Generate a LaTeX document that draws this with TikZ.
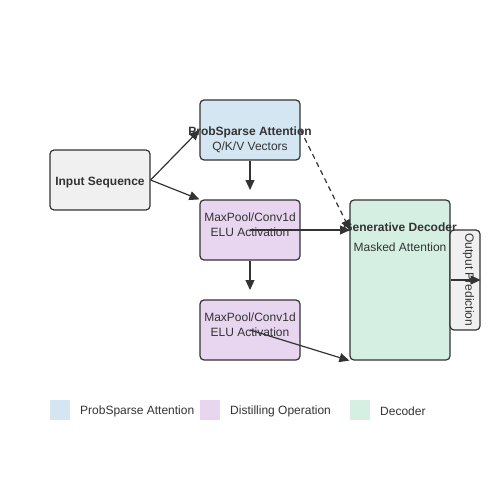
\documentclass[tikz,border=0pt]{standalone}
\usepackage{fontspec}
\setmainfont{Liberation Sans}
\usetikzlibrary{arrows.meta}
\definecolor{edge}{HTML}{333333}
\definecolor{inputfill}{HTML}{F0F0F0}
\definecolor{attnfill}{HTML}{D4E6F1}
\definecolor{distfill}{HTML}{E8D5F0}
\definecolor{decfill}{HTML}{D5F0E3}
\begin{document}
\begin{tikzpicture}[x = 1pt, y = -1pt,
	box/.style = {draw = edge, line width = 1.2pt, rounded corners = 4pt, inner sep = 0pt},
	txt/.style = {text = edge, font = \fontsize{12}{14}\selectfont, inner sep = 0pt, yshift = -1.5pt},
	btxt/.style = {txt, font = \fontsize{12}{14}\selectfont\bfseries},
	flow/.style = {draw = edge, line width = 1.2pt, -{Triangle[length = 10pt, width = 9pt]}},
	swatch/.style = {minimum width = 20pt, minimum height = 20pt, inner sep = 0pt}]
	\useasboundingbox (0, 0) rectangle (500, 500);
	
	\node[box, fill = inputfill, minimum width = 100pt, minimum height = 60pt] (input) at (100, 180) {};
	\node[box, fill = attnfill, minimum width = 100pt, minimum height = 60pt] (prob) at (250, 130) {};
	\node[box, fill = distfill, minimum width = 100pt, minimum height = 60pt] (dist1) at (250, 230) {};
	\node[box, fill = distfill, minimum width = 100pt, minimum height = 60pt] (dist2) at (250, 330) {};
	\node[box, fill = decfill, minimum width = 100pt, minimum height = 160pt] (dec) at (400, 280) {};
	\node[box, fill = inputfill, minimum width = 30pt, minimum height = 100pt] (out) at (465, 280) {};
	
	%labels
	\node[btxt] (inputlbl) at (100, 181) {Input Sequence};
	\node[btxt] (problbl) at (250, 131) {ProbSparse Attention};
	\node[txt] (probsub) at (250, 146) {Q/K/V Vectors};
	\node[txt] (dist1lbl) at (250, 216) {MaxPool/Conv1d};
	\node[txt] (dist1sub) at (250, 231) {ELU Activation};
	\node[txt] (dist2lbl) at (250, 316) {MaxPool/Conv1d};
	\node[txt] (dist2sub) at (250, 331) {ELU Activation};
	\node[btxt] (declbl) at (400, 226) {Generative Decoder};
	\node[txt] (decsub) at (400, 246) {Masked Attention};
	\node[txt, rotate = -90, yshift = 1.5pt, xshift = -1.5pt] (outlbl) at (467, 280) {Output Prediction};
	
	\coordinate (probend) at (250, 190);
	\coordinate (dist1end) at (250, 290);
	\coordinate (decin) at (350, 230);
	
	\draw[flow] (input.east) -- (prob.west);
	\draw[flow] (input.east) -- (dist1.north west);
	\draw[flow] (prob.south) -- (probend);
	\draw[flow] (dist1.south) -- (dist1end);
	\draw[flow] (dist1.center) -- (decin);
	\draw[flow] (dist2.center) -- (dec.south west);
	\draw[flow, dash pattern = on 5pt off 4pt] (prob.east) -- (decin);
	\draw[flow] (dec.east) -- (out.east);
	
	%legend
	\node[swatch, fill = attnfill] (keyattn) at (60, 410) {};
	\node[txt, anchor = west] (keyattnlbl) at (80, 410) {ProbSparse Attention};
	\node[swatch, fill = distfill] (keydist) at (210, 410) {};
	\node[txt, anchor = west] (keydistlbl) at (230, 410) {Distilling Operation};
	\node[swatch, fill = decfill] (keydec) at (360, 410) {};
	\node[txt, anchor = west] (keydeclbl) at (380, 410) {Decoder};
\end{tikzpicture}
\end{document}
